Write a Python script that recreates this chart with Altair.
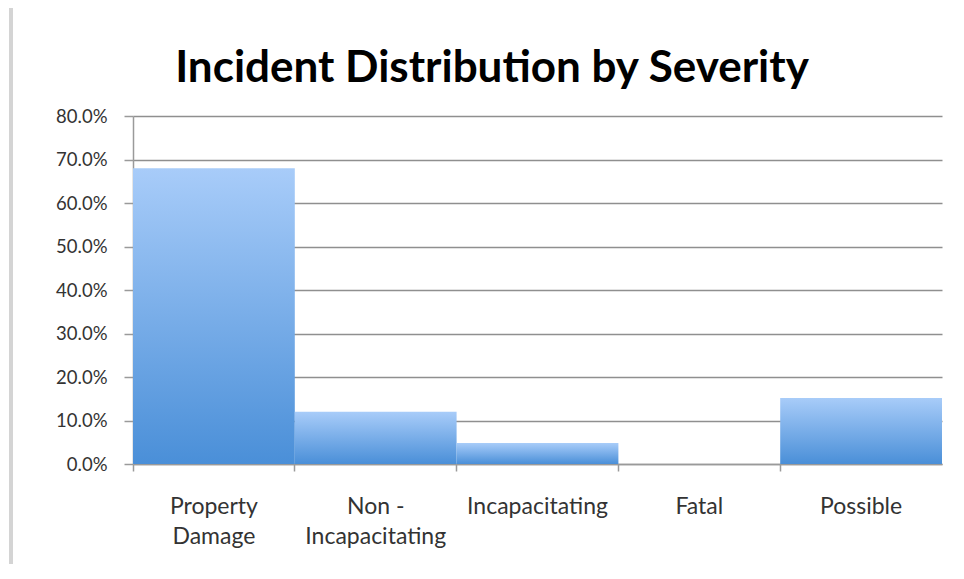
import altair as alt
import pandas as pd

title_text = "Incident Distribution by Severity"
categories = ["Property Damage", "Non - Incapacitating", "Incapacitating", "Fatal", "Possible"]
label_lines = ["Property|Damage", "Non -|Incapacitating", "Incapacitating", "Fatal", "Possible"]
shares = [0.680, 0.120, 0.048, 0.0, 0.152]
y_ticks = [0, 0.1, 0.2, 0.3, 0.4, 0.5, 0.6, 0.7, 0.8]

df = pd.DataFrame({"category": label_lines, "share": shares})

FONT = "Lato"

gradient = alt.Gradient(
    gradient="linear",
    stops=[alt.GradientStop(color="#a8ccf9", offset=0),
           alt.GradientStop(color="#4a8fd8", offset=1)],
    x1=0, x2=0, y1=0, y2=1,
)

bars = alt.Chart(df).mark_bar(fill=gradient, strokeWidth=0).encode(
    x=alt.X("category:N", sort=label_lines,
            scale=alt.Scale(paddingInner=0, paddingOuter=0),
            axis=alt.Axis(title=None, labelAngle=0, bandPosition=0, grid=False,
                          labelExpr="split(datum.label, '|')",
                          labelFont=FONT, labelFontSize=23, labelColor="#333333",
                          labelPadding=24, labelLineHeight=30,
                          tickSize=7, tickColor="#9a9a9a", tickWidth=1.5,
                          domainColor="#9a9a9a", domainWidth=1.5,
                          labelBaseline="top")),
    y=alt.Y("share:Q",
            scale=alt.Scale(domain=[0, 0.8], nice=False),
            axis=alt.Axis(title=None, format=".1%", values=y_ticks,
                          labelFont=FONT, labelFontSize=18.5, labelColor="#333333",
                          labelPadding=17, tickSize=9, tickColor="#9a9a9a", tickWidth=1.5,
                          domainColor="#9a9a9a", domainWidth=1.5,
                          gridColor="#8f8f8f", gridWidth=1.5)),
)

frame = alt.Chart(pd.DataFrame({"k": [0]})).mark_rule(color="#d4d4d4", strokeWidth=4, clip=False).encode(
    x=alt.value(-122), y=alt.value(-110), y2=alt.value(470)
)

title = alt.Chart(pd.DataFrame({"t": [title_text]})).mark_text(
    font=FONT, fontSize=44, fontWeight="bold", color="#000000",
    align="center", baseline="alphabetic", clip=False,
).encode(text="t:N", x=alt.value(359), y=alt.value(-34))

chart = alt.layer(frame, bars, title).properties(
    width=809, height=348,
    autosize=alt.AutoSizeParams(type="none"),
    padding={"left": 125, "top": 108, "right": 10, "bottom": 100},
).configure(background="white",
            view=alt.ViewConfig(stroke="white", fill="white"))

chart.save("out.html", embed_options={"renderer": "svg", "actions": False})
